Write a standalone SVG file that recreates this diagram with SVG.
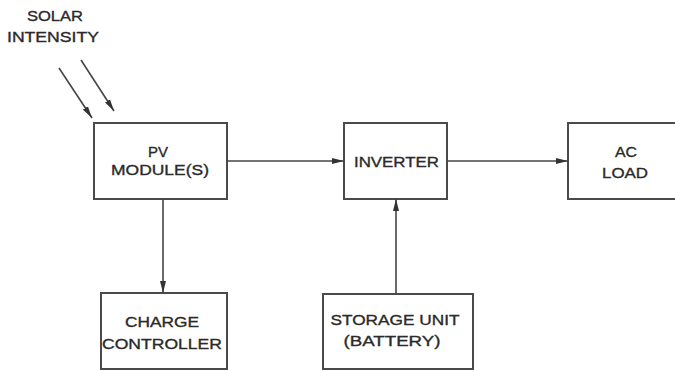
<svg xmlns="http://www.w3.org/2000/svg" width="675" height="370" viewBox="0 0 675 370">
<defs>
<style>
.box{fill:#fff;stroke:#4a4a4a;stroke-width:2}
.t{font-family:"Liberation Sans",Arial,sans-serif;font-size:15px;fill:#2a2a2a;stroke:#2a2a2a;stroke-width:0.35;text-anchor:middle}
.c{stroke:#444;stroke-width:1.6;fill:none;marker-end:url(#ah)}
</style>
<marker id="ah" viewBox="0 0 12 6" refX="12" refY="3" markerWidth="12" markerHeight="6" markerUnits="userSpaceOnUse" orient="auto">
<path d="M0,0 L12,3 L0,6 z" fill="#333"/>
</marker>
</defs>
<rect width="675" height="370" fill="#fff"/>
<g id="solar">
<text class="t" x="55" y="21" textLength="56" lengthAdjust="spacingAndGlyphs">SOLAR</text>
<text class="t" x="53" y="42" textLength="92" lengthAdjust="spacingAndGlyphs">INTENSITY</text>
</g>
<g id="pv">
<rect class="box" x="94" y="123" width="133" height="76"/>
<text class="t" x="158" y="157" textLength="20" lengthAdjust="spacingAndGlyphs">PV</text>
<text class="t" x="160" y="175" textLength="98" lengthAdjust="spacingAndGlyphs">MODULE(S)</text>
</g>
<g id="inverter">
<rect class="box" x="344" y="123" width="103" height="76"/>
<text class="t" x="396.5" y="167" textLength="85" lengthAdjust="spacingAndGlyphs">INVERTER</text>
</g>
<g id="acload">
<rect class="box" x="568" y="123" width="120" height="76"/>
<text class="t" x="626" y="157" textLength="22" lengthAdjust="spacingAndGlyphs">AC</text>
<text class="t" x="625" y="178" textLength="46" lengthAdjust="spacingAndGlyphs">LOAD</text>
</g>
<g id="charge">
<rect class="box" x="101" y="293" width="126" height="76"/>
<text class="t" x="162" y="327" textLength="74" lengthAdjust="spacingAndGlyphs">CHARGE</text>
<text class="t" x="162" y="349" textLength="120" lengthAdjust="spacingAndGlyphs">CONTROLLER</text>
</g>
<g id="storage">
<rect class="box" x="323" y="294" width="150" height="75"/>
<text class="t" x="395" y="325" textLength="129" lengthAdjust="spacingAndGlyphs">STORAGE UNIT</text>
<text class="t" x="392" y="346" textLength="97" lengthAdjust="spacingAndGlyphs">(BATTERY)</text>
</g>
<g id="connectors">
<line class="c" x1="59" y1="68" x2="92" y2="118"/>
<line class="c" x1="81" y1="60" x2="114" y2="111"/>
<line class="c" x1="227" y1="161" x2="344" y2="161"/>
<line class="c" x1="447" y1="161" x2="568" y2="161"/>
<line class="c" x1="163" y1="199" x2="163" y2="293"/>
<line class="c" x1="396" y1="294" x2="396" y2="199"/>
</g>
</svg>
